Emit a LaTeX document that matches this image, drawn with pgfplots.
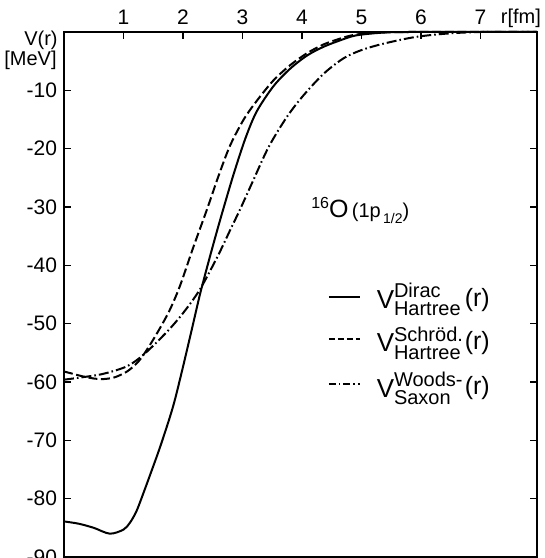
\documentclass[border=0pt]{standalone}
\usepackage{pgfplots}
\pgfplotsset{compat=1.18}
\usepackage{fontspec}
\setmainfont{Liberation Sans}
\newcommand{\legV}[3]{%
  \node[anchor=west, inner sep=0pt, font=\fontsize{13}{13}\selectfont] at (axis cs:5.25,#1) {V};
  \node[anchor=west, inner sep=0pt, font=\fontsize{10}{10.5}\selectfont, align=left] at (axis cs:5.54,#1) {#2\\[-1.5pt]#3};
  \node[anchor=west, inner sep=0pt, font=\fontsize{12.5}{12.5}\selectfont] at (axis cs:6.73,#1) {(r)};
}
\begin{document}
\begin{tikzpicture}
\begin{axis}[
  scale only axis,
  width=236.5pt, height=262.5pt,
  xmin=0, xmax=7.95, ymin=-90, ymax=0,
  xtick={1,2,3,4,5,6,7},
  ytick={-90,-80,-70,-60,-50,-40,-30,-20,-10},
  xtick pos=right, xticklabel pos=right,
  ytick pos=both, yticklabel pos=left,
  tick align=inside,
  major tick length=3.5pt,
  axis line style={line width=0.8pt},
  every tick/.style={line width=0.8pt, black},
  tick label style={font=\fontsize{10.5}{10.5}\selectfont},
  /pgf/number format/assume math mode=true,
  clip=false,
]
% Dirac Hartree (solid)
\addplot[black, line width=1pt, smooth, tension=0.5] coordinates {
(0,-83.9) (0.25,-84.3) (0.5,-85.0) (0.77,-86.0) (1.0,-85.3) (1.11,-84.1)
(1.22,-82.1) (1.34,-78.9) (1.48,-75.0) (1.62,-71.0) (1.78,-66.0) (1.87,-62.8)
(2.0,-57.4) (2.15,-50.9) (2.28,-45.2) (2.4,-40.5) (2.52,-36.0) (2.65,-31.3)
(2.85,-24.4) (3.05,-18.2) (3.24,-13.6) (3.52,-9.3) (3.80,-6.3) (4.09,-4.0)
(4.37,-2.5) (4.65,-1.4) (4.9,-0.6) (5.3,-0.15) (5.8,0) (7.95,0)
};
% Schroed. Hartree (dashed)
\addplot[black, line width=1pt, smooth, tension=0.5, dash pattern=on 4.5pt off 1.8pt] coordinates {
(0,-58.2) (0.15,-58.6) (0.3,-59.0) (0.5,-59.4) (0.66,-59.5) (0.85,-59.2)
(1.06,-58.2) (1.25,-56.5) (1.41,-54.2) (1.6,-51.0) (1.78,-47.6) (1.95,-43.5)
(2.17,-37.0) (2.40,-30.5) (2.60,-24.6) (2.79,-19.5) (3.02,-15.0) (3.24,-11.8)
(3.52,-8.3) (3.80,-5.7) (4.09,-3.6) (4.37,-2.1) (4.65,-1.1) (4.9,-0.45)
(5.3,-0.1) (5.8,0) (7.95,0)
};
% Woods-Saxon (dash-dot)
\addplot[black, line width=1pt, smooth, tension=0.5, dash pattern=on 5pt off 1.5pt on 0.8pt off 1.5pt] coordinates {
(0,-59.6) (0.3,-59.2) (0.66,-58.6) (1.06,-57.3) (1.35,-55.2) (1.73,-51.4)
(2.0,-48.2) (2.28,-44.2) (2.58,-38.5) (2.8,-33.8) (2.96,-30.4) (3.16,-25.9)
(3.44,-19.7) (3.75,-14.5) (4.03,-10.8) (4.37,-7.1) (4.70,-4.5) (5.0,-3.1)
(5.37,-2.0) (5.88,-0.9) (6.4,-0.3) (7.0,0) (7.95,0)
};
% axis labels
\node[anchor=east, inner sep=0pt, font=\fontsize{10}{10}\selectfont] at ([xshift=-3pt,yshift=-4pt]rel axis cs:0,1) {V(r)};
\node[anchor=east, inner sep=0pt, font=\fontsize{10}{10}\selectfont] at ([xshift=-3.5pt,yshift=-14pt]rel axis cs:0,1) {[MeV]};
\node[inner sep=0pt, font=\fontsize{10}{10}\selectfont] at ([yshift=7pt]axis cs:7.68,0) {r[fm]};
% nucleus label
\node[anchor=west, inner sep=0pt] at (axis cs:4.15,-30.6) {{\fontsize{8}{8}\selectfont\raisebox{1ex}{16}}{\fontsize{12.5}{12.5}\selectfont O}{\fontsize{10}{10}\selectfont\,(1p\raisebox{-0.6ex}{\fontsize{7}{7}\selectfont\,1/2})}};
% legend
\draw[black, line width=1pt] (axis cs:4.45,-45.5) -- (axis cs:4.98,-45.5);
\draw[black, line width=1pt, dash pattern=on 3pt off 1.5pt] (axis cs:4.45,-52.7) -- (axis cs:4.98,-52.7);
\draw[black, line width=1pt, dash pattern=on 3.5pt off 1.5pt on 0.8pt off 1.5pt] (axis cs:4.45,-60.4) -- (axis cs:4.98,-60.4);
\legV{-45.9}{Dirac}{Hartree}
\legV{-53.3}{Schröd.}{Hartree}
\legV{-61.1}{Woods-}{Saxon}
\coordinate (BL) at (rel axis cs:0,0);
\coordinate (TR) at (rel axis cs:1,1);
\end{axis}
\pgfresetboundingbox
\path ([xshift=-32pt,yshift=-0.5pt]BL) rectangle ([xshift=3.5pt,yshift=16pt]TR);
\end{tikzpicture}
\end{document}
